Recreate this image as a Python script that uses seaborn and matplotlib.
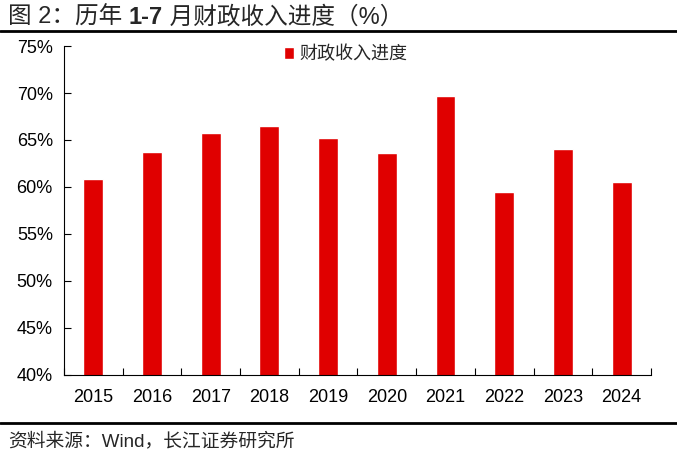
import numpy as np
import pandas as pd
import matplotlib
matplotlib.use("Agg")
import matplotlib.pyplot as plt
import seaborn as sns

# values
years = ["2015", "2016", "2017", "2018", "2019", "2020", "2021", "2022", "2023", "2024"]
progress = [60.8, 63.7, 65.7, 66.5, 65.2, 63.6, 69.7, 59.5, 64.0, 60.5]
yticks = [40, 45, 50, 55, 60, 65, 70, 75]
series_name = "财政收入进度"

df = pd.DataFrame({"year": years, "progress": progress})

sns.set_style("white")
plt.rcParams['font.family'] = ['Liberation Sans', 'Noto Sans CJK SC', 'DejaVu Sans']

fig = plt.figure(figsize=(6.77, 4.61), dpi=100)
ax = fig.add_axes([0.0945, 0.1866, 0.867, 0.7136])

sns.barplot(data=df, x="year", y="progress", color="#E00000", width=0.34,
            saturation=1, label=series_name, ax=ax)

ax.set_ylim(40, 75)
ax.set_yticks(yticks)
ax.set_yticklabels([f"{t}%" for t in yticks])
ax.set_xlim(-0.5, len(years) - 0.5)
ax.set_xlabel("")
ax.set_ylabel("")

# x ticks sit between categories, pointing up
ax.set_xticks(np.arange(-0.5, len(years) + 0.5, 1), minor=True)
ax.tick_params(axis="x", which="major", length=0, labelsize=13, pad=10, colors="black")
ax.tick_params(axis="x", which="minor", direction="in", length=5, width=0.8, color="black")
ax.tick_params(axis="y", direction="in", length=5, width=0.8, labelsize=13, pad=8, colors="black")
ax.yaxis.set_ticks_position("left")
ax.xaxis.set_ticks_position("bottom")

for s in ["top", "right"]:
    ax.spines[s].set_visible(False)
for s in ["left", "bottom"]:
    ax.spines[s].set_color("black")
    ax.spines[s].set_linewidth(0.8)

leg = ax.legend(loc="upper center", bbox_to_anchor=(0.48, 1.05), frameon=False,
                fontsize=13, handlelength=0.6, handleheight=0.7, handletextpad=0.3)

# title in pieces so "1-7" can be bold
fig.canvas.draw()
renderer = fig.canvas.get_renderer()
x0 = 0.012
parts = [("图 2：历年 ", "normal"), ("1-7", "bold"), (" 月财政收入进度（%）", "normal")]
for txt, wt in parts:
    t = fig.text(x0, 0.962, txt, fontsize=17, fontweight=wt, va="center", ha="left")
    bb = t.get_window_extent(renderer=renderer)
    x0 += bb.width / fig.bbox.width

fig.add_artist(plt.Line2D([0, 1], [0.932, 0.932], color="black", lw=2, transform=fig.transFigure))
fig.add_artist(plt.Line2D([0, 1], [0.082, 0.082], color="black", lw=2, transform=fig.transFigure))
fig.text(0.012, 0.042, "资料来源：Wind，长江证券研究所", fontsize=13.5, va="center", ha="left")

fig.savefig("out.png", dpi=100)
